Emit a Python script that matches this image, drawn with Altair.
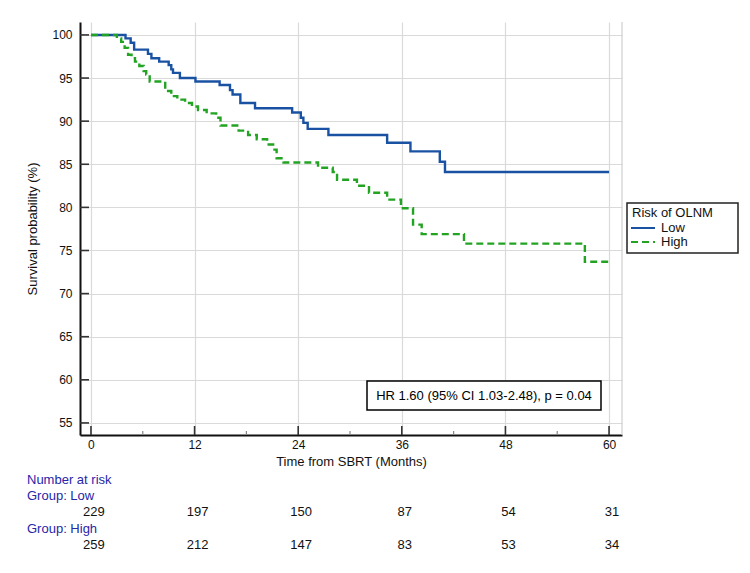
import altair as alt
import pandas as pd

# ---- data ----
groups = ["Low", "High"]

low_time = [0, 4.0, 4.6, 5.0, 6.6, 7.0, 7.9, 9.0, 9.3, 9.5, 10.3, 12.1, 14.9, 16.1, 16.4,
            17.3, 19.0, 23.3, 24.3, 24.6, 25.1, 27.5, 34.3, 37.0, 40.4, 41.0, 60]
low_surv = [100, 99.6, 99.1, 98.3, 97.8, 97.3, 96.9, 96.5, 96.0, 95.6, 95.0, 94.6, 94.2, 93.6, 93.1,
            92.1, 91.5, 91.0, 90.4, 89.8, 89.1, 88.4, 87.5, 86.5, 85.3, 84.1, 84.1]

high_time = [0, 3.0, 3.5, 3.9, 4.3, 4.7, 5.1, 5.6, 6.1, 6.4, 6.8, 8.6, 9.3, 10.0, 10.9, 11.7,
             12.4, 13.4, 14.5, 15.0, 17.1, 18.2, 19.2, 20.4, 21.1, 21.5, 22.3, 26.3, 28.0, 28.5,
             30.8, 32.2, 34.3, 35.9, 37.3, 38.3, 43.2, 57.2, 60]
high_surv = [100, 99.6, 99.2, 98.5, 97.7, 97.3, 96.9, 96.4, 95.8, 95.4, 94.6, 93.5, 92.9, 92.5, 92.1, 91.7,
             91.3, 90.9, 90.4, 89.5, 88.9, 88.4, 87.9, 87.3, 86.7, 85.7, 85.2, 84.6, 84.1, 83.2,
             82.5, 81.7, 80.9, 79.9, 78.0, 76.9, 75.8, 73.7, 73.7]

risk_times = [0, 12, 24, 36, 48, 60]
risk_low = [229, 197, 150, 87, 54, 31]
risk_high = [259, 212, 147, 83, 53, 34]

x_ticks = [0, 12, 24, 36, 48, 60]
x_minor = [6, 18, 30, 42, 54]
y_ticks = [55, 60, 65, 70, 75, 80, 85, 90, 95, 100]

hr_label = "HR 1.60 (95% CI 1.03-2.48), p = 0.04"
legend_title = "Risk of OLNM"
risk_title = "Number at risk"
row_labels = ["Group: Low", "Group: High"]

# ---- styling ----
W, H = 542, 413
FONT = "Liberation Sans"
BLUE = "#1a52a3"
GREEN = "#22a322"
NAVY = "#2626a8"
COLORS = [BLUE, GREEN]
DASHES = [[1, 0], [7, 4]]

xs = alt.Scale(domain=[-1.27, 61.5], nice=False, zero=False)
ys = alt.Scale(domain=[53.6, 101.5], nice=False, zero=False)

x_axis = alt.Axis(values=x_ticks, title="Time from SBRT (Months)", grid=True,
                  labelPadding=4, titlePadding=5)
y_axis = alt.Axis(values=y_ticks, title="Survival probability (%)", grid=True,
                  labelPadding=8, titlePadding=12)

curves = pd.DataFrame({
    "time": low_time + high_time,
    "surv": low_surv + high_surv,
    "group": ["Low"] * len(low_time) + ["High"] * len(high_time),
})

one = pd.DataFrame({"k": [0]})

lines = alt.Chart(curves).mark_line(interpolate="step-after", strokeWidth=2.4).encode(
    x=alt.X("time:Q", scale=xs, axis=x_axis),
    y=alt.Y("surv:Q", scale=ys, axis=y_axis),
    color=alt.Color("group:N", scale=alt.Scale(domain=groups, range=COLORS), legend=None),
    strokeDash=alt.StrokeDash("group:N", scale=alt.Scale(domain=groups, range=DASHES), legend=None),
)

ytick = alt.Chart(pd.DataFrame({"surv": y_ticks})).mark_rule(color="#333333", strokeWidth=1.6).encode(
    y=alt.Y("surv:Q", scale=ys, axis=y_axis), x=alt.value(0), x2=alt.value(9))
xtick = alt.Chart(pd.DataFrame({"time": x_ticks})).mark_rule(color="#333333", strokeWidth=1.6).encode(
    x=alt.X("time:Q", scale=xs, axis=x_axis), y=alt.value(H), y2=alt.value(H - 9))
xminor = alt.Chart(pd.DataFrame({"time": x_minor})).mark_rule(color="#888888", strokeWidth=1.2).encode(
    x=alt.X("time:Q", scale=xs, axis=x_axis), y=alt.value(H), y2=alt.value(H - 4))

right_edge = alt.Chart(one).mark_rule(color="#cfcfcf", strokeWidth=1.2).encode(
    x=alt.value(W), y=alt.value(0), y2=alt.value(H))

hr_box = alt.Chart(one).mark_rect(fill="white", stroke="black", strokeWidth=1.5).encode(
    x=alt.value(287), x2=alt.value(521), y=alt.value(359), y2=alt.value(388))
hr_text = alt.Chart(pd.DataFrame({"t": [hr_label]})).mark_text(
    font=FONT, fontSize=13, color="black", align="center", baseline="middle").encode(
    text="t:N", x=alt.value(404), y=alt.value(374))

# manual legend (box, title, one swatch + label per group)
leg_box = alt.Chart(one).mark_rect(fill="white", stroke="#222222", strokeWidth=1.5).encode(
    x=alt.value(547), x2=alt.value(658), y=alt.value(181), y2=alt.value(231))
leg_title = alt.Chart(pd.DataFrame({"t": [legend_title]})).mark_text(
    font=FONT, fontSize=13, color="#111111", align="left", baseline="middle").encode(
    text="t:N", x=alt.value(552), y=alt.value(191))

legend_layers = []
for i, g in enumerate(groups):
    yy = 206 + 14 * i
    legend_layers.append(alt.Chart(one).mark_rule(
        color=COLORS[i], strokeDash=DASHES[i], strokeWidth=2).encode(
        x=alt.value(551), x2=alt.value(575), y=alt.value(yy)))
    legend_layers.append(alt.Chart(pd.DataFrame({"t": [g]})).mark_text(
        font=FONT, fontSize=13, color="#111111", align="left", baseline="middle").encode(
        text="t:N", x=alt.value(581), y=alt.value(yy)))


def label(txt, y):
    return alt.Chart(pd.DataFrame({"t": [txt]})).mark_text(
        font=FONT, fontSize=13, color=NAVY, align="left", baseline="middle").encode(
        text="t:N", x=alt.value(-53), y=alt.value(y))


def risk_row(values, y):
    df = pd.DataFrame({"time": risk_times, "n": values})
    return alt.Chart(df).mark_text(
        font=FONT, fontSize=13, color="#111111", align="center", baseline="middle", dx=3).encode(
        x=alt.X("time:Q", scale=xs, axis=x_axis), text="n:Q", y=alt.value(y))


chart = alt.layer(
    right_edge, hr_box, hr_text, lines, ytick, xtick, xminor,
    leg_box, leg_title, *legend_layers,
    label(risk_title, 458), label(row_labels[0], 474), risk_row(risk_low, 490),
    label(row_labels[1], 507), risk_row(risk_high, 523),
).properties(
    width=W, height=H,
    autosize=alt.AutoSizeParams(type="none"),
    padding={"left": 80, "top": 22, "right": 128, "bottom": 138},
    background="white",
).configure_view(stroke=None).configure_axis(
    domainColor="#111111", domainWidth=2, ticks=False,
    gridColor="#dadada", gridWidth=1.2,
    labelFont=FONT, labelFontSize=12, labelColor="#111111",
    titleFont=FONT, titleFontSize=13, titleFontWeight="normal", titleColor="#111111",
)

chart.save("out.html", embed_options={"renderer": "svg", "actions": False})
